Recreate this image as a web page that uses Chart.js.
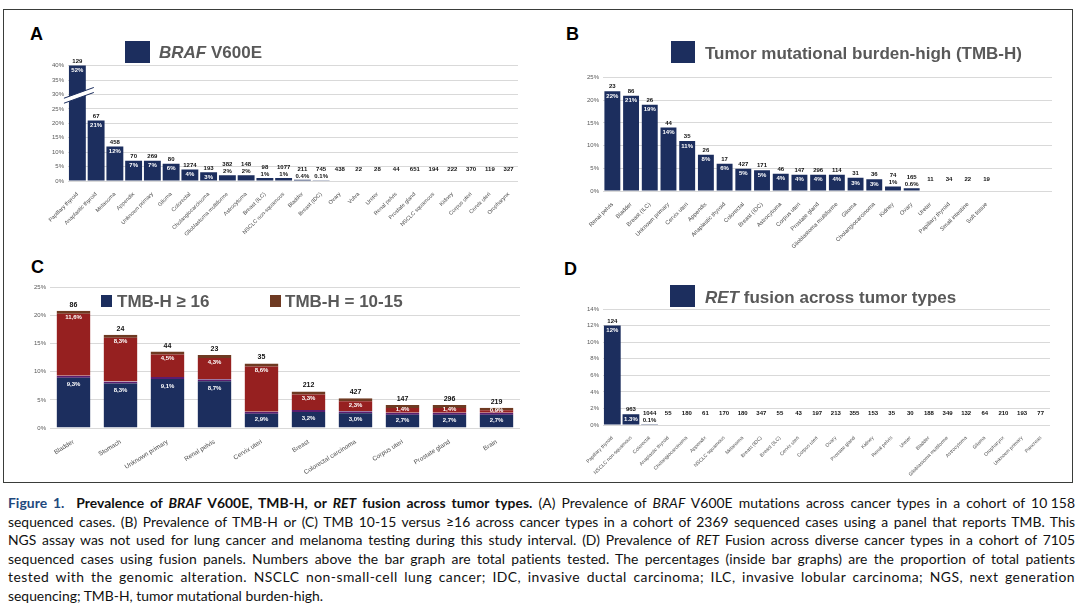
<!DOCTYPE html>
<html>
<head>
<meta charset="utf-8">
<script src="https://cdn.jsdelivr.net/npm/chart.js@4.4.1/dist/chart.umd.min.js"></script>
<style>
body { margin: 0; background: #fff; }
#page { position: relative; width: 1080px; height: 609px; overflow: hidden; font-family: "Liberation Sans", Arial, sans-serif; }
.frame { position: absolute; left: 3px; top: 9px; width: 1068px; height: 472px; border: 1.5px solid #3a3d3a; }
canvas { position: absolute; }
.letter { position: absolute; font-weight: bold; font-size: 18px; line-height: 18px; color: #000; }
.leg { position: absolute; font-weight: bold; font-size: 17px; line-height: 17px; color: #595959; white-space: nowrap; }
.sw { position: absolute; }
.cap { position: absolute; left: 8px; top: 494px; width: 1067px; font-family: Lato, "Open Sans", sans-serif; font-size: 13.9px; line-height: 18.6px; color: #111; }
.ln { white-space: nowrap; }
.fig { color: #1f497d; }
</style>
</head>
<body>
<div id="page">
  <div class="frame"></div>

  <div class="letter" style="left:30px;top:25px">A</div>
  <div class="letter" style="left:566px;top:25px">B</div>
  <div class="letter" style="left:31px;top:258px">C</div>
  <div class="letter" style="left:564px;top:260px">D</div>

  <canvas id="chartA" width="500" height="192" style="left:30px;top:58px"></canvas>
  <canvas id="chartB" width="500" height="190" style="left:560px;top:70px"></canvas>
  <canvas id="chartC" width="505" height="195" style="left:25px;top:280px"></canvas>
  <canvas id="chartD" width="515" height="177" style="left:545px;top:300px"></canvas>

  <div class="sw" style="left:125px;top:41px;width:25px;height:22px;background:#1c2e5e"></div>
  <div class="leg" style="left:159px;top:44px"><i>BRAF</i> V600E</div>

  <div class="sw" style="left:671px;top:41px;width:24px;height:22px;background:#1c2e5e"></div>
  <div class="leg" style="left:705px;top:45px">Tumor mutational burden-high (TMB-H)</div>

  <div class="sw" style="left:101px;top:295px;width:11px;height:12px;background:#1c2e5e"></div>
  <div class="leg" style="left:117px;top:293px">TMB-H ≥ 16</div>
  <div class="sw" style="left:270px;top:295px;width:11px;height:12px;background:#6e3a22"></div>
  <div class="leg" style="left:285px;top:293px">TMB-H = 10-15</div>

  <div class="sw" style="left:670px;top:285px;width:25px;height:22px;background:#1c2e5e"></div>
  <div class="leg" style="left:705px;top:289px"><i>RET</i> fusion across tumor types</div>

  <div class="cap">
    <div class="ln"><span><b><span class="fig">Figure 1.</span>&nbsp; Prevalence of <i>BRAF</i> V600E, TMB-H, or <i>RET</i> fusion across tumor types.</b> (A) Prevalence of <i>BRAF</i> V600E mutations across cancer types in a cohort of 10&#8239;158</span></div>
    <div class="ln"><span>sequenced cases. (B) Prevalence of TMB-H or (C) TMB 10-15 versus ≥16 across cancer types in a cohort of 2369 sequenced cases using a panel that reports TMB. This</span></div>
    <div class="ln"><span>NGS assay was not used for lung cancer and melanoma testing during this study interval. (D) Prevalence of <i>RET</i> Fusion across diverse cancer types in a cohort of 7105</span></div>
    <div class="ln"><span>sequenced cases using fusion panels. Numbers above the bar graph are total patients tested. The percentages (inside bar graphs) are the proportion of total patients</span></div>
    <div class="ln"><span>tested with the genomic alteration. NSCLC non-small-cell lung cancer; IDC, invasive ductal carcinoma; ILC, invasive lobular carcinoma; NGS, next generation</span></div>
    <div class="ln"><span>sequencing; TMB-H, tumor mutational burden-high.</span></div>
  </div>
</div>

<script>
// A: BRAF V600E
const aCats = ['Papillary thyroid', 'Anaplastic thyroid', 'Melanoma', 'Appendix', 'Unknown primary', 'Glioma', 'Colorectal', 'Cholangiocarcinoma', 'Glioblastoma multiforme', 'Astrocytoma', 'Breast (ILC)', 'NSCLC non-squamous', 'Bladder', 'Breast (IDC)', 'Ovary', 'Vulva', 'Ureter', 'Renal pelvis', 'Prostate gland', 'NSCLC squamous', 'Kidney', 'Corpus uteri', 'Cervix uteri', 'Oropharynx'];
const aPct = [52, 21, 12, 7, 7, 6, 4, 3, 2, 2, 1, 1, 0.4, 0.1, 0, 0, 0, 0, 0, 0, 0, 0, 0, 0];
const aTotals = [129, 67, 458, 70, 269, 80, 1274, 193, 382, 148, 98, 1077, 211, 745, 438, 22, 28, 44, 651, 194, 222, 370, 119, 327];

// B: TMB-H
const bCats = ['Renal pelvis', 'Bladder', 'Breast (ILC)', 'Unknown primary', 'Cervix uteri', 'Appendix', 'Anaplastic thyroid', 'Colorectal', 'Breast (IDC)', 'Astrocytoma', 'Corpus uteri', 'Prostate gland', 'Glioblastoma multiforme', 'Glioma', 'Cholangiocarcinoma', 'Kidney', 'Ovary', 'Ureter', 'Papillary thyroid', 'Small intestine', 'Soft tissue'];
const bPct = [22, 21, 19, 14, 11, 8, 6, 4.9, 4.6, 3.8, 3.6, 3.6, 3.6, 2.9, 2.6, 1, 0.6, 0, 0, 0, 0];
const bTotals = [23, 86, 26, 44, 35, 26, 17, 427, 171, 46, 147, 296, 114, 31, 36, 74, 165, 11, 34, 22, 19];

// C: TMB >=16 vs 10-15
const cCats = ['Bladder', 'Stomach', 'Unknown primary', 'Renal pelvis', 'Cervix uteri', 'Breast', 'Colorectal carcinoma', 'Corpus uteri', 'Prostate gland', 'Brain'];
const cHigh = [9.3, 8.3, 9.1, 8.7, 2.9, 3.2, 3.0, 2.7, 2.7, 2.7];
const cMid = [11.6, 8.3, 4.5, 4.3, 8.6, 3.3, 2.3, 1.4, 1.4, 0.9];
const cTotals = [86, 24, 44, 23, 35, 212, 427, 147, 296, 219];

// D: RET fusion
const dCats = ['Papillary thyroid', 'NSCLC non-squamous', 'Colorectal', 'Anaplastic thyroid', 'Cholangiocarcinoma', 'Appendix', 'NSCLC squamous', 'Melanoma', 'Breast (IDC)', 'Breast (ILC)', 'Cervix uteri', 'Corpus uteri', 'Ovary', 'Prostate gland', 'Kidney', 'Renal pelvis', 'Ureter', 'Bladder', 'Glioblastoma multiforme', 'Astrocytoma', 'Glioma', 'Oropharynx', 'Unknown primary', 'Pancreas'];
const dPct = [12, 1.3, 0.1, 0, 0, 0, 0, 0, 0, 0, 0, 0, 0, 0, 0, 0, 0, 0, 0, 0, 0, 0, 0, 0];
const dTotals = [124, 963, 1044, 55, 180, 61, 170, 180, 347, 55, 43, 197, 213, 355, 153, 35, 30, 188, 349, 132, 64, 210, 193, 77];

const NAVY = '#1c2e5e';
const RED = '#962020';
const FONT = '"Liberation Sans", Arial, sans-serif';
Chart.defaults.font.family = FONT;
Chart.defaults.color = '#595959';

// labels over / inside the bars
function valueLabels(totals, pct, fmt) {
  return {
    id: 'valueLabels',
    afterDatasetsDraw(chart) {
      const ctx = chart.ctx, area = chart.chartArea;
      const meta = chart.getDatasetMeta(0);
      ctx.save();
      ctx.textAlign = 'center';
      ctx.textBaseline = 'middle';
      ctx.font = 'bold 6px ' + FONT;
      meta.data.forEach((bar, i) => {
        if (i >= totals.length) return;
        const top = Math.max(bar.y, area.top);
        const h = bar.base - top;
        let ty = top - 4.5;
        if (pct[i] > 0) {
          if (h >= 5.5) {
            ctx.fillStyle = '#fff';
            ctx.fillText(fmt(pct[i]), bar.x, top + 5);
          } else {
            ctx.fillStyle = '#111';
            ctx.fillText(fmt(pct[i]), bar.x, top - 4);
            ty = top - 11;
          }
        } else {
          ty = top - 11.5;
        }
        ctx.fillStyle = '#111';
        ctx.fillText(totals[i], bar.x, ty);
      });
      ctx.restore();
    }
  };
}

// broken axis mark on the first bar of A
const breakMark = {
  id: 'breakMark',
  afterDatasetsDraw(chart) {
    const bar = chart.getDatasetMeta(0).data[0];
    const yc = chart.scales.y.getPixelForValue(29.5);
    const x0 = bar.x - bar.width / 2 - 5, x1 = bar.x + bar.width / 2 + 8;
    const slope = -0.36;
    const yAt = (x, off) => yc + off + slope * (x - bar.x);
    const ctx = chart.ctx;
    ctx.save();
    ctx.beginPath();
    ctx.moveTo(x0, yAt(x0, -2.5));
    ctx.lineTo(x1, yAt(x1, -2.5));
    ctx.lineTo(x1, yAt(x1, 2.5));
    ctx.lineTo(x0, yAt(x0, 2.5));
    ctx.closePath();
    ctx.fillStyle = '#fff';
    ctx.fill();
    ctx.strokeStyle = NAVY;
    ctx.lineWidth = 1;
    [-2.5, 2.5].forEach(off => {
      ctx.beginPath();
      ctx.moveTo(x0, yAt(x0, off));
      ctx.lineTo(x1, yAt(x1, off));
      ctx.stroke();
    });
    ctx.restore();
  }
};

function scalesFor(yW, xH, max, step, rot, xSize) {
  return {
    x: {
      grid: { display: false },
      border: { display: false },
      ticks: { autoSkip: false, minRotation: rot, maxRotation: rot, padding: 2, font: { size: xSize }, color: '#4d4d4d' },
      afterFit: s => { s.height = xH; }
    },
    y: {
      min: 0, max: max,
      grid: { color: '#d9d9d9', drawTicks: false },
      border: { display: false },
      ticks: { stepSize: step, padding: 4, font: { size: 6 }, color: '#595959', callback: v => v + '%' },
      afterFit: s => { s.width = yW; }
    }
  };
}

const baseOpts = {
  responsive: false,
  animation: false,
  events: [],
  plugins: { legend: { display: false }, tooltip: { enabled: false } }
};

// A
new Chart(document.getElementById('chartA'), {
  type: 'bar',
  data: {
    labels: aCats,
    datasets: [{ data: aPct, backgroundColor: NAVY, clip: 0, categoryPercentage: 0.9, barPercentage: 1 }]
  },
  options: {
    ...baseOpts,
    layout: { padding: { top: 7, right: 12, left: 0, bottom: 0 } },
    scales: scalesFor(38, 69, 40, 5, 45, 5.5)
  },
  plugins: [valueLabels(aTotals, aPct, v => v + '%'), breakMark]
});

// B (three empty slots keep the grid running to the right edge)
new Chart(document.getElementById('chartB'), {
  type: 'bar',
  data: {
    labels: bCats.concat(['', '', '']),
    datasets: [{ data: bPct, backgroundColor: NAVY, clip: 0, categoryPercentage: 0.85, barPercentage: 1 }]
  },
  options: {
    ...baseOpts,
    layout: { padding: { top: 7, right: 8, left: 0, bottom: 0 } },
    scales: scalesFor(43, 69, 25, 5, 45, 5.8)
  },
  plugins: [valueLabels(bTotals, bPct, v => (v >= 1 ? Math.round(v) : v) + '%')]
});

// C stacked
const stackLabels = {
  id: 'stackLabels',
  afterDatasetsDraw(chart) {
    const ctx = chart.ctx;
    const hi = chart.getDatasetMeta(0).data, mid = chart.getDatasetMeta(1).data;
    const fmt = v => v.toFixed(1).replace('.', ',') + '%';
    ctx.save();
    ctx.textAlign = 'center';
    ctx.textBaseline = 'middle';
    hi.forEach((bar, i) => {
      const m = mid[i];
      ctx.font = 'bold 6px ' + FONT;
      ctx.fillStyle = '#fff';
      ctx.fillText(fmt(cHigh[i]), bar.x, bar.y + Math.min(9, (bar.base - bar.y) / 2));
      ctx.fillText(fmt(cMid[i]), m.x, m.y + Math.min(7, (m.base - m.y) / 2 + 0.5));
      ctx.font = 'bold 7px ' + FONT;
      ctx.fillStyle = '#111';
      ctx.fillText(cTotals[i], m.x, m.y - 6);
    });
    ctx.restore();
  }
};

const cScales = scalesFor(25, 47, 25, 5, 32, 6.4);
cScales.x.stacked = true;
cScales.y.stacked = true;
new Chart(document.getElementById('chartC'), {
  type: 'bar',
  data: {
    labels: cCats,
    datasets: [
      { label: 'TMB-H ≥ 16', data: cHigh, backgroundColor: NAVY, borderColor: '#5b1d6e', borderWidth: { top: 2 }, borderSkipped: false, categoryPercentage: 0.72, barPercentage: 1 },
      { label: 'TMB-H = 10-15', data: cMid, backgroundColor: RED, borderColor: '#6e3a22', borderWidth: { top: 3 }, borderSkipped: false, categoryPercentage: 0.72, barPercentage: 1 }
    ]
  },
  options: {
    ...baseOpts,
    layout: { padding: { top: 7, right: 10, left: 0, bottom: 0 } },
    scales: cScales
  },
  plugins: [stackLabels]
});

// D
new Chart(document.getElementById('chartD'), {
  type: 'bar',
  data: {
    labels: dCats,
    datasets: [{ data: dPct, backgroundColor: NAVY, clip: 0, categoryPercentage: 0.9, barPercentage: 1 }]
  },
  options: {
    ...baseOpts,
    layout: { padding: { top: 9, right: 10, left: 0, bottom: 0 } },
    scales: scalesFor(58, 52, 14, 2, 45, 5)
  },
  plugins: [valueLabels(dTotals, dPct, v => v + '%')]
});

// justify caption lines to the full width; big gaps go partly into letter spacing
const lines = document.querySelectorAll('.cap .ln');
lines.forEach((ln, i) => {
  if (i === lines.length - 1) return;
  const span = ln.firstElementChild;
  let w = span.getBoundingClientRect().width;
  const text = span.textContent;
  const spaces = (text.match(/[ \u00a0]/g) || []).length;
  let ws = (1067 - w) / spaces;
  if (ws > 2.5) {
    const ls = (ws - 2.5) * spaces / text.length;
    ln.style.letterSpacing = ls + 'px';
    w = span.getBoundingClientRect().width;
    ws = (1067 - w) / spaces;
  }
  ln.style.wordSpacing = ws + 'px';
});
</script>
</body>
</html>
